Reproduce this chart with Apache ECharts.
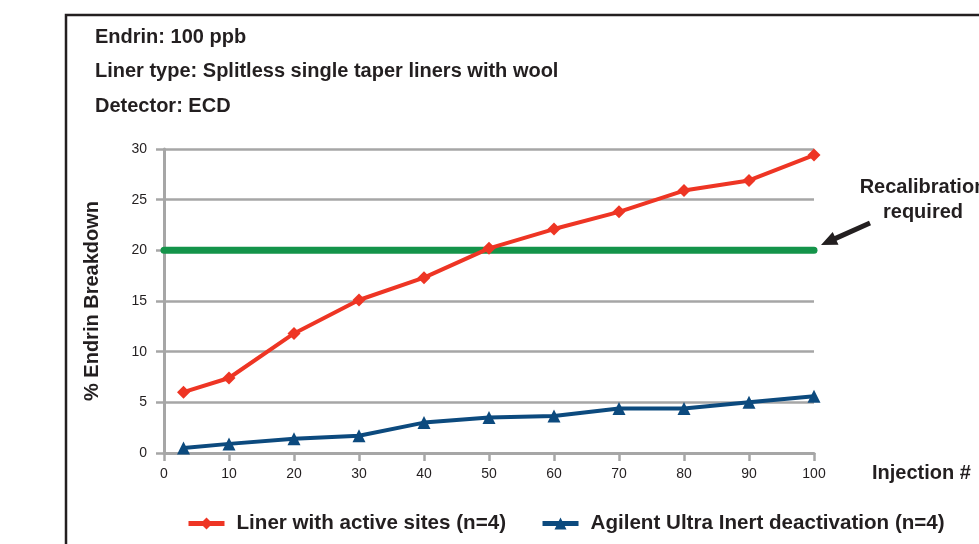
<!DOCTYPE html>
<html>
<head>
<meta charset="utf-8">
<script src="https://cdn.jsdelivr.net/npm/echarts@6/dist/echarts.min.js"></script>
<style>
html,body{margin:0;padding:0;background:#fff;}
#chart{width:979px;height:544px;}
</style>
</head>
<body>
<div id="chart"></div>
<script>
var injections=[3,10,20,30,40,50,60,70,80,90,100];
var activeSites=[6.0,7.4,11.8,15.1,17.3,20.2,22.1,23.8,25.9,26.9,29.4];
var ultraInert=[0.5,0.9,1.4,1.7,3.0,3.5,3.65,4.4,4.4,5.0,5.6];
var limitX=[0,100];
var limitY=20;
var titleLines=['Endrin: 100 ppb','Liner type: Splitless single taper liners with wool','Detector: ECD'];
var noteLines=['Recalibration','required'];

var font='"Liberation Sans",Arial,sans-serif';
var ink='#231f20';
var gridGray='#a6a6a6';

function pairs(xs,ys){
	var out=[];
	for (var i=0;i<xs.length;i++){
		out.push([xs[i],ys[i]]);
	}
	return out;
}

var chart=echarts.init(document.getElementById('chart'));
// frame, arrow and free text
var graphics=[{
	type:'rect',
	shape:{x:66,y:15,width:1000,height:1000},
	style:{fill:'none',stroke:ink,lineWidth:2.5}
},{
	type:'polygon',
	shape:{points:[[821,245],[838.5,244.8],[836.6,240.7],[871,225.3],[869,220.7],[834.6,236.1],[832.7,232]]},
	style:{fill:ink}
},{
	type:'text',
	style:{x:872,y:473,text:'Injection #',font:'bold 20px '+font,fill:ink,verticalAlign:'middle'}
}];
for (var i=0;i<noteLines.length;i++){
	graphics.push({
		type:'text',
		style:{x:923,y:187+i*25,text:noteLines[i],font:'bold 20px '+font,fill:ink,align:'center',verticalAlign:'middle'}
	});
}
for (var i=0;i<titleLines.length;i++){
	graphics.push({
		type:'text',
		style:{x:95,y:37+i*34.5,text:titleLines[i],font:'bold 20px '+font,fill:ink,verticalAlign:'middle'}
	});
}

chart.setOption({
	animation:false,
	grid:{left:164,right:165,top:149,bottom:91},
	xAxis:{
		type:'value',min:0,max:100,interval:10,
		axisLine:{lineStyle:{color:gridGray,width:3}},
		axisTick:{show:true,length:8,lineStyle:{color:gridGray,width:2.5}},
		axisLabel:{margin:14,fontFamily:font,fontSize:14,color:ink},
		splitLine:{show:false}
	},
	yAxis:{
		type:'value',min:0,max:30,interval:5,
		name:'% Endrin Breakdown',
		nameLocation:'middle',
		nameGap:62,
		nameTextStyle:{fontFamily:font,fontWeight:'bold',fontSize:20,color:ink},
		axisLine:{show:true,lineStyle:{color:gridGray,width:3}},
		axisTick:{show:true,length:8,lineStyle:{color:gridGray,width:2.5}},
		axisLabel:{margin:17,fontFamily:font,fontSize:14,color:ink},
		splitLine:{show:true,lineStyle:{color:gridGray,width:2.5}}
	},
	legend:{
		top:513,
		left:186,
		padding:0,
		itemWidth:36,
		itemHeight:15,
		itemGap:34,
		lineStyle:{width:5},
		textStyle:{fontFamily:font,fontWeight:'bold',fontSize:20.6,color:ink,padding:[0,0,0,7]},
		data:['Liner with active sites (n=4)','Agilent Ultra Inert deactivation (n=4)']
	},
	graphic:graphics,
	series:[{
		name:'Recalibration limit',
		type:'line',
		data:pairs(limitX,[limitY,limitY]),
		symbol:'none',
		lineStyle:{color:'#14944a',width:7,cap:'round'},
		z:1
	},{
		name:'Liner with active sites (n=4)',
		type:'line',
		data:pairs(injections,activeSites),
		symbol:'diamond',
		symbolSize:13,
		itemStyle:{color:'#ee3524'},
		lineStyle:{color:'#ee3524',width:4},
		z:3
	},{
		name:'Agilent Ultra Inert deactivation (n=4)',
		type:'line',
		data:pairs(injections,ultraInert),
		symbol:'triangle',
		symbolSize:13,
		itemStyle:{color:'#0c4a7e'},
		lineStyle:{color:'#0c4a7e',width:4},
		z:2
	}]
});
</script>
</body>
</html>
